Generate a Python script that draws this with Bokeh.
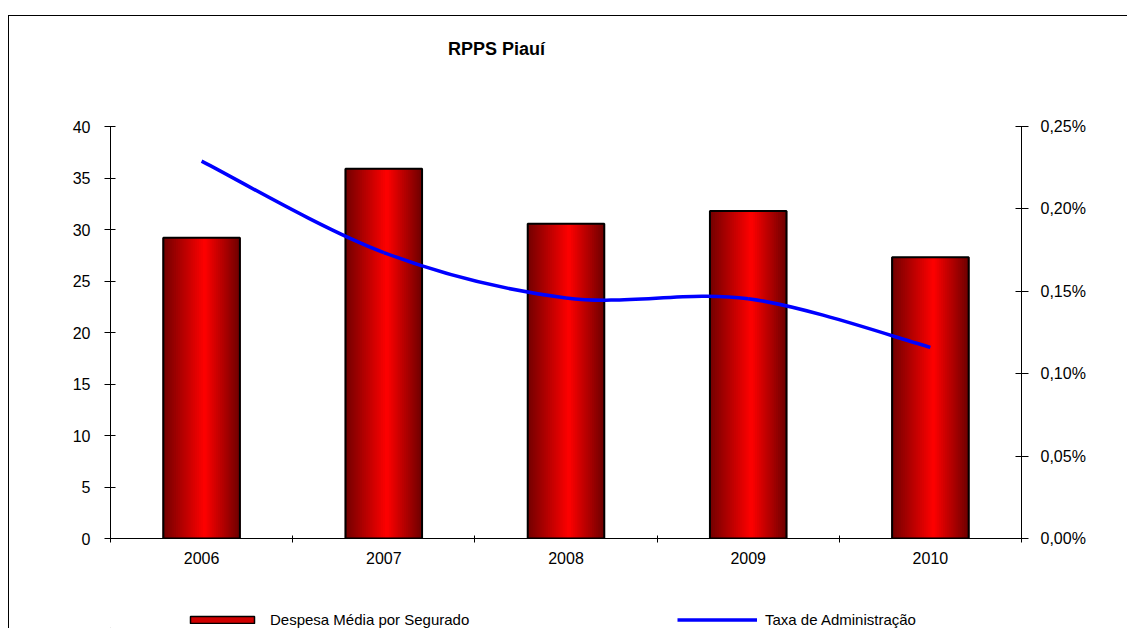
import numpy as np
from bokeh.plotting import figure
from bokeh.layouts import column
from bokeh.models import (LinearAxis, Range1d, FixedTicker, CustomJSTickFormatter,
                          Legend, LegendItem, Label, ColumnDataSource)
from bokeh.embed import file_html
from bokeh.resources import INLINE

# ---- data ----
years = ["2006", "2007", "2008", "2009", "2010"]
despesa = [29.2, 35.9, 30.55, 31.8, 27.3]          # Despesa Média por Segurado
taxa = [0.229, 0.1735, 0.146, 0.1455, 0.116]       # Taxa de Administração (%)
left_ticks = [0, 5, 10, 15, 20, 25, 30, 35, 40]
right_ticks = [0.0, 0.05, 0.10, 0.15, 0.20, 0.25]

FONT = "Liberation Sans"
n = len(years)
centers = np.arange(n) + 0.5
bar_w = 0.42
W = 1119


def strip(h):
    f = figure(width=W, height=h, x_range=Range1d(0, 1), y_range=Range1d(0, 1),
               x_axis_location=None, y_axis_location=None, min_border=0,
               output_backend="svg", toolbar_location=None)
    f.grid.visible = False
    f.outline_line_color = None
    f.background_fill_color = "white"
    f.border_fill_color = "white"
    return f


# ---- title strip ----
tf = strip(60)
tf.margin = (15, 0, 0, 8)
tf.styles = {"border-top": "1px solid black", "border-left": "1px solid black"}
tf.add_layout(Label(x=386, y=28, x_units="screen", y_units="screen", text="RPPS Piauí",
                    text_font=FONT, text_font_style="bold", text_font_size="18px",
                    text_align="center", text_baseline="middle", text_color="black"))

# ---- main chart ----
p = figure(width=W, height=514, x_range=Range1d(0, n), y_range=Range1d(0, 40),
           output_backend="svg", toolbar_location=None,
           min_border_left=101, min_border_right=107, min_border_top=51, min_border_bottom=51)
p.margin = (0, 0, 0, 8)
p.styles = {"border-left": "1px solid black"}
p.xgrid.visible = False
p.ygrid.visible = False
p.outline_line_color = None
p.background_fill_color = "white"
p.border_fill_color = "white"

# bars with horizontal gradient (slices)
N = 40
peak = 0.55
xs, tops, cols = [], [], []
for c, v in zip(centers, despesa):
    for k in range(N):
        t = (k + 0.5) / N
        f = 1 - abs(t - peak) / (peak if t < peak else 1 - peak)
        r = int(round(112 + 143 * f))
        xs.append(c - bar_w / 2 + (k + 0.5) * bar_w / N)
        tops.append(v)
        cols.append("#%02x0000" % r)
slice_src = ColumnDataSource(dict(x=xs, top=tops, color=cols))
p.vbar(x="x", top="top", bottom=0, width=bar_w / N * 1.8, source=slice_src,
       fill_color="color", line_color=None)
p.vbar(x=centers, top=despesa, bottom=0, width=bar_w,
       fill_color=None, line_color="black", line_width=2)

# secondary axis & smoothed line
p.extra_y_ranges = {"pct": Range1d(0, 0.25)}
pts_x = list(centers)
pts_y = list(taxa)
ex = [pts_x[0]] + pts_x + [pts_x[-1]]
ey = [pts_y[0]] + pts_y + [pts_y[-1]]
bz = dict(x0=[], y0=[], x1=[], y1=[], cx0=[], cy0=[], cx1=[], cy1=[])
for i in range(1, len(ex) - 2):
    bz["x0"].append(ex[i]); bz["y0"].append(ey[i])
    bz["x1"].append(ex[i + 1]); bz["y1"].append(ey[i + 1])
    bz["cx0"].append(ex[i] + (ex[i + 1] - ex[i - 1]) / 6)
    bz["cy0"].append(ey[i] + (ey[i + 1] - ey[i - 1]) / 6)
    bz["cx1"].append(ex[i + 1] - (ex[i + 2] - ex[i]) / 6)
    bz["cy1"].append(ey[i + 1] - (ey[i + 2] - ey[i]) / 6)
p.bezier(source=ColumnDataSource(bz), x0="x0", y0="y0", x1="x1", y1="y1",
         cx0="cx0", cy0="cy0", cx1="cx1", cy1="cy1",
         line_color="#0000ff", line_width=3.5, y_range_name="pct")

# axes
yax = p.yaxis[0]
yax.ticker = FixedTicker(ticks=left_ticks, minor_ticks=[])
yax.major_tick_in = 5
yax.major_tick_out = 6
yax.minor_tick_in = 0
yax.minor_tick_out = 0
yax.major_label_standoff = 14

xax = p.xaxis[0]
xax.ticker = FixedTicker(ticks=list(centers), minor_ticks=list(range(n + 1)))
xax.formatter = CustomJSTickFormatter(args=dict(labels=years),
                                      code="return labels[Math.floor(tick)] || '';")
xax.major_tick_in = 0
xax.major_tick_out = 0
xax.minor_tick_in = 3
xax.minor_tick_out = 4
xax.major_label_standoff = 9

rax = LinearAxis(y_range_name="pct",
                 ticker=FixedTicker(ticks=right_ticks, minor_ticks=[]),
                 formatter=CustomJSTickFormatter(code="return tick.toFixed(2).replace('.', ',') + '%';"))
rax.major_tick_in = 6
rax.major_tick_out = 7
rax.minor_tick_in = 0
rax.minor_tick_out = 0
rax.major_label_standoff = 12
p.add_layout(rax, "right")

for ax in (yax, xax, rax):
    ax.axis_line_color = "black"
    ax.major_tick_line_color = "black"
    ax.minor_tick_line_color = "black"
    ax.major_label_text_font = FONT
    ax.major_label_text_font_size = "16px"
    ax.major_label_text_color = "black"

# ---- legend strip ----
lf = strip(39)
lf.margin = (0, 0, 0, 8)
lf.styles = {"border-left": "1px solid black"}
# legend key renderers (kept outside the visible range of the strip)
bar_key = lf.vbar(x=[-5], top=[-5], bottom=[-6], width=0.1,
                  fill_color="#d00000", line_color="black", line_width=1.5)
line_key = lf.line(x=[-6, -5], y=[-5, -5], line_color="#0000ff", line_width=3.5)
legend = Legend(items=[
    LegendItem(label="Despesa Média por Segurado", renderers=[bar_key]),
    LegendItem(label="Taxa de Administração", renderers=[line_key]),
], location=(72, 0), orientation="horizontal", glyph_width=80, glyph_height=9,
   label_width=300, label_height=12, label_standoff=8, spacing=107, padding=0, margin=0,
   border_line_color=None, background_fill_alpha=0,
   label_text_font=FONT, label_text_font_size="15px", label_text_color="black")
lf.add_layout(legend, "center")

layout = column(tf, p, lf, spacing=0)
open("out.html", "w").write(file_html(layout, INLINE))
